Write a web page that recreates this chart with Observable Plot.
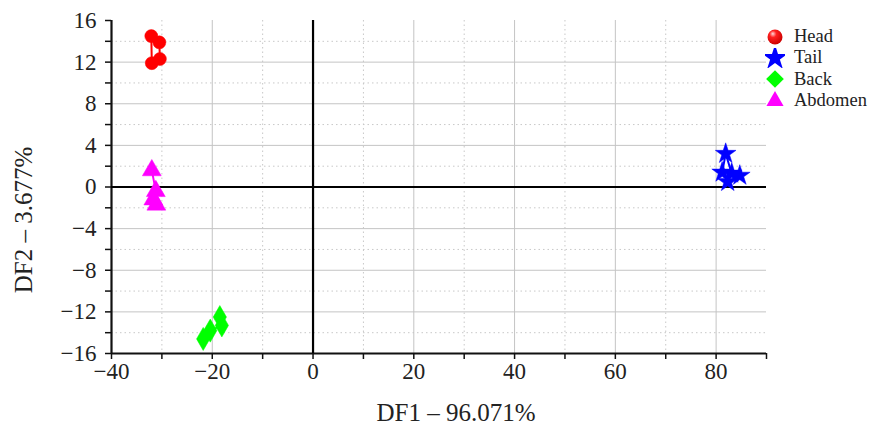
<!DOCTYPE html>
<html>
<head>
<meta charset="utf-8">
<script src="https://cdn.jsdelivr.net/npm/d3@7"></script>
<script src="https://cdn.jsdelivr.net/npm/@observablehq/plot@0.6"></script>
<style>
  html, body { margin: 0; padding: 0; background: #fff; }
  #wrap { position: relative; width: 885px; height: 428px; }
  #legend { position: absolute; left: 765px; top: 26px; font-family: "Liberation Serif", serif; font-size: 18.5px; color: #222; line-height: 21.3px; }
  #legend div { display: flex; align-items: center; height: 21.3px; }
  #legend span { white-space: nowrap; }
  #legend svg { margin-right: 9px; flex: none; }
</style>
</head>
<body>
<div id="wrap"><div id="legend"></div></div>
<script>
// ---- data ----
const groups = ["Head", "Tail", "Back", "Abdomen"];
const colors = ["#ff0000", "#0000ff", "#00ff00", "#ff00ff"];
const symbols = ["circle", "star", "diamond", "triangle"];

const headX = [-32.1, -32.0, -30.4, -30.5];
const headY = [14.5, 11.9, 12.3, 13.9];
const tailX = [81.2, 81.9, 83.1, 84.7, 82.3];
const tailY = [1.4, 3.2, 1.3, 1.1, 0.5];
const backX = [-18.5, -18.1, -20.4, -21.8];
const backY = [-12.5, -13.3, -13.8, -14.6];
const abdomenX = [-32.0, -31.2, -31.7, -31.1];
const abdomenY = [1.6, -0.4, -1.2, -1.7];

const xMajorGrid = [-20, 20, 40, 60, 80];
const xMinorGrid = [-30, -10, 10, 30, 50, 70];
const yMajorGrid = [-12, -8, -4, 4, 8, 12];
const yMinorGrid = [-14, -10, -6, -2, 2, 6, 10, 14];
const xTicks = d3.range(-40, 91, 10);
const xTickLabels = [-40, -20, 0, 20, 40, 60, 80];
const yTicks = d3.range(-16, 17, 2);
const yTickLabels = [-16, -12, -8, -4, 0, 4, 8, 12, 16];
const xLabel = "DF1 – 96.071%";
const yLabel = "DF2 – 3.677%";

// ---- build table ----
const seriesX = [headX, tailX, backX, abdomenX];
const seriesY = [headY, tailY, backY, abdomenY];
const data = [];
groups.forEach((g, gi) => seriesX[gi].forEach((x, i) => data.push({group: g, x, y: seriesY[gi][i]})));

const fmt = d => (d < 0 ? "\u2212" : "") + Math.abs(d);
const font = "Liberation Serif";

const chart = Plot.plot({
  width: 885,
  height: 428,
  marginLeft: 111,
  marginRight: 119,
  marginTop: 20,
  marginBottom: 75,
  style: {fontFamily: font, fontSize: "24px", color: "#222", background: "#fff"},
  x: {domain: [-40, 90]},
  y: {domain: [-16, 16]},
  color: {domain: groups, range: colors},
  symbol: {domain: groups, range: symbols},
  marks: [
    Plot.gridX(xMinorGrid, {stroke: "#c8c8c8", strokeOpacity: 1, strokeDasharray: "1.5,3"}),
    Plot.gridY(yMinorGrid, {stroke: "#c8c8c8", strokeOpacity: 1, strokeDasharray: "1.5,3"}),
    Plot.gridX(xMajorGrid, {stroke: "#c4c4c4", strokeOpacity: 1, strokeWidth: 1}),
    Plot.gridY(yMajorGrid, {stroke: "#c4c4c4", strokeOpacity: 1, strokeWidth: 1}),
    Plot.axisX({ticks: xTicks, tickSize: 6, tickPadding: 3, fontSize: 24, tickFormat: d => xTickLabels.includes(d) ? fmt(d) : "", label: null, strokeWidth: 1.5, stroke: "#111"}),
    Plot.axisY({ticks: yTicks, tickSize: 6, tickPadding: 9, fontSize: 24, tickFormat: d => yTickLabels.includes(d) ? fmt(d) : "", label: null, strokeWidth: 1.5, stroke: "#111"}),
    Plot.ruleX([-40], {stroke: "#111", strokeWidth: 2.2}),
    Plot.ruleY([-16], {stroke: "#111", strokeWidth: 2.2}),
    Plot.ruleX([0], {stroke: "#000", strokeWidth: 2.2}),
    Plot.ruleY([0], {stroke: "#000", strokeWidth: 2.2}),
    Plot.line(data, {x: "x", y: "y", z: "group", stroke: "group", strokeWidth: 2}),
    Plot.dot(data, {filter: d => d.group === "Head" || d.group === "Tail", x: "x", y: "y", symbol: "group", fill: "group", stroke: "group", strokeWidth: 0.5, r: 6.5}),
    Plot.dot(data, {filter: d => d.group === "Back" || d.group === "Abdomen", x: "x", y: "y", symbol: "group", fill: "group", stroke: "group", strokeWidth: 0.5, r: 7}),
    Plot.text([xLabel], {frameAnchor: "bottom", dx: 17, dy: 59, fontSize: 25, fill: "#222", lineAnchor: "middle", textAnchor: "middle"}),
    Plot.text([yLabel], {frameAnchor: "left", dx: -88, dy: 33, rotate: -90, fontSize: 25, fill: "#222", lineAnchor: "middle", textAnchor: "middle"})
  ]
});

const svg = d3.select(chart);
// make sure the tick labels use the larger size
svg.selectAll('g[aria-label="x-axis tick label"], g[aria-label="y-axis tick label"]')
  .attr("font-size", 23).style("font-size", "23px");

// sphere gradient for the Head points
const defs = svg.insert("defs", ":first-child");
const grad = defs.append("radialGradient").attr("id", "sphere").attr("cx", "40%").attr("cy", "35%").attr("r", "65%").attr("fx", "35%").attr("fy", "28%");
grad.append("stop").attr("offset", "0%").attr("stop-color", "#ffdada");
grad.append("stop").attr("offset", "35%").attr("stop-color", "#ff2020");
grad.append("stop").attr("offset", "100%").attr("stop-color", "#cc0000");
svg.selectAll("circle").filter(function() {
  const f = this.getAttribute("fill") || (this.parentNode && this.parentNode.getAttribute("fill"));
  return f === "#ff0000" || f === "rgb(255, 0, 0)";
}).attr("fill", "url(#sphere)").attr("stroke", "#e00000");

document.getElementById("wrap").prepend(chart);

// legend
const legend = document.getElementById("legend");
groups.forEach((g, i) => {
  const row = document.createElement("div");
  const s = d3.create("svg").attr("width", 20).attr("height", 20);
  if (i === 0) {
    const dg = s.append("defs").append("radialGradient").attr("id", "sphereL").attr("cx", "40%").attr("cy", "35%").attr("r", "65%").attr("fx", "35%").attr("fy", "28%");
    dg.append("stop").attr("offset", "0%").attr("stop-color", "#ffdada");
    dg.append("stop").attr("offset", "35%").attr("stop-color", "#ff2020");
    dg.append("stop").attr("offset", "100%").attr("stop-color", "#cc0000");
    s.append("circle").attr("cx", 10).attr("cy", 10).attr("r", 7.5).attr("fill", "url(#sphereL)");
  } else {
    const sym = {star: d3.symbolStar, diamond: d3.symbolDiamond2, triangle: d3.symbolTriangle2}[symbols[i]];
    const sizes = {star: 200, diamond: 200, triangle: 210};
    s.append("path").attr("transform", "translate(10,10)").attr("d", d3.symbol(sym, sizes[symbols[i]])()).attr("fill", colors[i]);
  }
  row.appendChild(s.node());
  const t = document.createElement("span");
  t.textContent = g;
  row.appendChild(t);
  legend.appendChild(row);
});
</script>
</body>
</html>
